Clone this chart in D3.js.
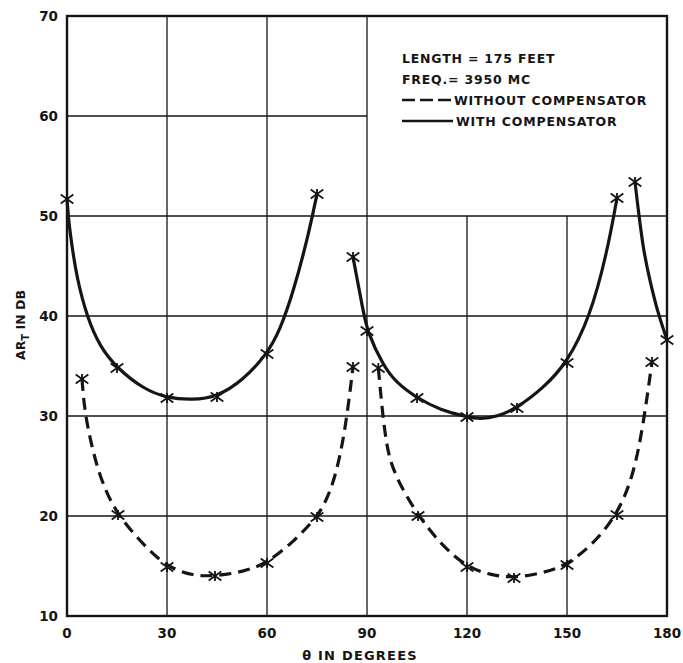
<!DOCTYPE html>
<html>
<head>
<meta charset="utf-8">
<script src="https://cdn.jsdelivr.net/npm/d3@7"></script>
<style>
  body { margin: 0; background: #fff; }
  text { font-family: "DejaVu Sans", sans-serif; font-weight: bold; fill: #151515; }
</style>
</head>
<body>
<svg id="chart" width="683" height="663"></svg>
<script>
// ticks
var xTicks = [0, 30, 60, 90, 120, 150, 180],
    yTicks = [10, 20, 30, 40, 50, 60, 70];

// traced curves [theta, dB]
var withCompA = [[0, 51.7], [0.5, 49.5], [1.4, 47.2], [2.9, 43.9], [5.9, 40.0], [9.9, 36.9], [15, 34.8], [22.9, 32.7],
                 [30, 31.8], [37.5, 31.6], [45, 31.9], [52.9, 33.6], [60, 36.2], [63.9, 38.6],
                 [67.8, 42.3], [72.3, 47.9], [75, 52.2]];
var withCompB = [[85.8, 45.9], [88.8, 40.6], [90, 38.5], [94.9, 35.0], [98.9, 33.3], [105, 31.8],
                 [112, 30.6], [120, 29.9], [124, 29.7], [128.9, 29.9], [135, 30.8], [142.9, 32.8],
                 [150, 35.3], [156.9, 39.9], [162, 46.3], [165, 51.8]];
var withCompC = [[170.4, 53.4], [172.8, 46.6], [175, 43.4], [177, 40.6], [180, 37.6]];

var withoutA = [[4.5, 33.7], [5.4, 29.9], [8.9, 24.9], [11.9, 22.3], [15.3, 20.1], [22.9, 17.1], [30, 14.9],
                [37.9, 14.0], [44.4, 14.0], [52.9, 14.4], [60, 15.3], [67.9, 17.4], [75, 19.9],
                [77.4, 21.3], [80.3, 23.6], [83.4, 28.3], [85.8, 34.9]];
var withoutB = [[93.4, 34.8], [95.4, 27.6], [97.8, 24.3], [105.3, 20.0], [112.9, 16.9], [120, 14.9],
                [126.9, 14.1], [134.1, 13.8], [142.9, 14.3], [150, 15.1], [157.9, 17.2], [165, 20.1],
                [169.8, 23.9], [172.8, 28.9], [175.5, 35.4]];

// measured points (crosses)
var withCompPts = [[0, 51.7], [15, 34.8], [30, 31.8], [45, 31.9], [60, 36.2], [75, 52.2],
                   [85.8, 45.9], [90, 38.5], [105, 31.8], [120, 29.9], [135, 30.8], [150, 35.3],
                   [165, 51.8], [170.4, 53.4], [180, 37.6]];
var withoutPts = [[4.5, 33.7], [15.3, 20.1], [30, 14.9], [44.4, 14.0], [60, 15.3], [75, 19.9],
                  [85.8, 34.9], [93.4, 34.8], [105.3, 20.0], [120, 14.9], [134.1, 13.8], [150, 15.1],
                  [165, 20.1], [175.5, 35.4]];

var legendNotes = ["LENGTH = 175  FEET", "FREQ.= 3950 MC"];

var svg = d3.select("#chart");
var x = d3.scaleLinear().domain([0, 180]).range([67, 667]),
    y = d3.scaleLinear().domain([10, 70]).range([616, 16]);

var ink = "#151515";

// grid: upper right box (90..180, 50..70) is left open for the notes
var grid = svg.append("g").attr("stroke", ink).attr("stroke-width", 1.3);
xTicks.slice(1, -1).forEach(function (t) {
  grid.append("line")
      .attr("x1", x(t)).attr("x2", x(t))
      .attr("y1", y(10)).attr("y2", y(t > 90 ? 50 : 70));
});
yTicks.slice(1, -1).forEach(function (t) {
  grid.append("line")
      .attr("x1", x(0)).attr("x2", x(t > 50 ? 90 : 180))
      .attr("y1", y(t)).attr("y2", y(t));
});

svg.append("rect")
    .attr("x", x(0)).attr("y", y(70))
    .attr("width", x(180) - x(0)).attr("height", y(10) - y(70))
    .attr("fill", "none").attr("stroke", ink).attr("stroke-width", 2.4);

// tick labels
svg.append("g").selectAll("text").data(xTicks).join("text")
    .attr("x", function (d) { return x(d); })
    .attr("y", 638)
    .attr("text-anchor", "middle")
    .attr("font-size", 13.5)
    .text(function (d) { return d; });

svg.append("g").selectAll("text").data(yTicks).join("text")
    .attr("x", 58)
    .attr("y", function (d) { return y(d) + 5; })
    .attr("text-anchor", "end")
    .attr("font-size", 13.5)
    .text(function (d) { return d; });

// axis titles
svg.append("text")
    .attr("x", 360).attr("y", 660)
    .attr("text-anchor", "middle")
    .attr("font-size", 13)
    .attr("letter-spacing", 1.2)
    .text("\u03b8 IN  DEGREES");

var yTitle = svg.append("text")
    .attr("transform", "translate(25,325) rotate(-90)")
    .attr("text-anchor", "middle")
    .attr("font-size", 12.5);
yTitle.append("tspan").text("AR");
yTitle.append("tspan").attr("baseline-shift", "-4").attr("font-size", 10).text("T");
yTitle.append("tspan").text(" IN DB");

// curves
var line = d3.line()
    .x(function (d) { return x(d[0]); })
    .y(function (d) { return y(d[1]); })
    .curve(d3.curveBasis);

[withCompA, withCompB, withCompC].forEach(function (c) {
  svg.append("path").datum(c)
      .attr("d", line)
      .attr("fill", "none").attr("stroke", ink).attr("stroke-width", 3.2);
});
[withoutA, withoutB].forEach(function (c) {
  svg.append("path").datum(c)
      .attr("d", line)
      .attr("fill", "none").attr("stroke", ink).attr("stroke-width", 3.2)
      .attr("stroke-dasharray", "12,7");
});

// cross markers: an x with a short upright stroke
var crossSymbol = {
  draw: function (ctx, size) {
    var r = Math.sqrt(size) / 2, v = r * 0.8;
    ctx.moveTo(-r, -r * 0.7); ctx.lineTo(r, r * 0.7);
    ctx.moveTo(-r, r * 0.7); ctx.lineTo(r, -r * 0.7);
    ctx.moveTo(0, -v); ctx.lineTo(0, v);
  }
};
var marker = d3.symbol().type(crossSymbol).size(160);

svg.append("g").selectAll("path").data(withCompPts.concat(withoutPts)).join("path")
    .attr("transform", function (d) { return "translate(" + x(d[0]) + "," + y(d[1]) + ")"; })
    .attr("d", marker)
    .attr("fill", "none").attr("stroke", ink).attr("stroke-width", 1.8);

// notes + legend
var notes = svg.append("g");
notes.selectAll("text").data(legendNotes).join("text")
    .attr("x", 402)
    .attr("y", function (d, i) { return 63 + i * 21; })
    .attr("font-size", 12.5)
    .attr("letter-spacing", 0.8)
    .text(function (d) { return d; });

notes.append("line")
    .attr("x1", 402).attr("x2", 453).attr("y1", 100).attr("y2", 100)
    .attr("stroke", ink).attr("stroke-width", 2.5).attr("stroke-dasharray", "13,5");
notes.append("text").attr("x", 454).attr("y", 105)
    .attr("font-size", 12.5).attr("letter-spacing", 0.8)
    .text("WITHOUT COMPENSATOR");

notes.append("line")
    .attr("x1", 402).attr("x2", 453).attr("y1", 121).attr("y2", 121)
    .attr("stroke", ink).attr("stroke-width", 2.5);
notes.append("text").attr("x", 456).attr("y", 126)
    .attr("font-size", 12.5).attr("letter-spacing", 0.8)
    .text("WITH  COMPENSATOR");
</script>
</body>
</html>
